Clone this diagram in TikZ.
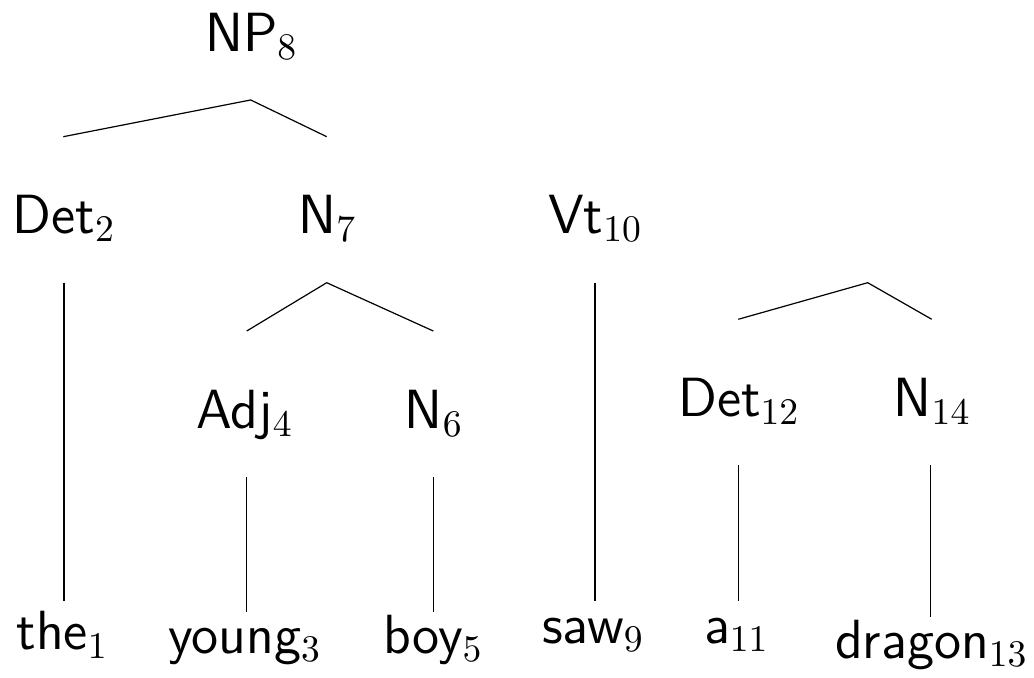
\documentclass[tikz,border=0pt]{standalone}
\tikzset{
  cat/.style={anchor=base,inner sep=0pt,font=\sffamily\fontsize{14.7}{18}\selectfont},
  branch/.style={line width=0.32pt,line join=bevel},
}
\begin{document}
\begin{tikzpicture}[branch]
  \useasboundingbox (0bp,0bp) rectangle (274.27bp,179.84bp);
%%
  % Node: NP 8
  \node[cat] (np8) at (66.76bp,166.13bp) {NP$_8$};
  % Node: Det 2
  \node[cat] (det2) at (17.03bp,117.96bp) {Det$_2$};
  % Node: N 7
  \node[cat] (n7) at (86.92bp,117.96bp) {N$_7$};
  % Node: Vt 10
  \node[cat] (vt10) at (157.96bp,117.96bp) {Vt$_{10}$};
  % Node: Adj 4
  \node[cat] (adj4) at (64.99bp,66.23bp) {Adj$_4$};
  % Node: N 6
  \node[cat] (n6) at (115.17bp,66.23bp) {N$_6$};
  % Node: Det 12
  \node[cat] (det12) at (196.07bp,69.31bp) {Det$_{12}$};
  % Node: N 14
  \node[cat] (n14) at (247.35bp,69.31bp) {N$_{14}$};
  % Node: words
  \node[cat] (the1) at (16.58bp,7.43bp) {the$_1$};
  \node[cat] (young3) at (64.99bp,6.63bp) {young$_3$};
  \node[cat] (boy5) at (114.93bp,6.63bp) {boy$_5$};
  \node[cat] (saw9) at (157.37bp,9.20bp) {saw$_9$};
  \node[cat] (a11) at (195.41bp,9.20bp) {a$_{11}$};
  \node[cat] (dragon13) at (247.14bp,5.23bp) {dragon$_{13}$};
%%
  % forks and line ends
  \coordinate (np8-fork) at (66.50bp,153.32bp);
  \coordinate (np8-l) at (16.79bp,143.58bp);
  \coordinate (np8-r) at (86.66bp,143.58bp);
  \coordinate (n7-fork) at (86.66bp,104.85bp);
  \coordinate (n7-l) at (65.44bp,92.04bp);
  \coordinate (n7-r) at (114.93bp,92.04bp);
  \coordinate (np-fork) at (230.16bp,104.85bp);
  \coordinate (np-l) at (195.84bp,95.15bp);
  \coordinate (np-r) at (247.14bp,95.15bp);
  \coordinate (det2-down) at (16.98bp,104.85bp);
  \coordinate (the1-up) at (16.98bp,20.42bp);
  \coordinate (adj4-down) at (65.44bp,53.32bp);
  \coordinate (young3-up) at (65.44bp,17.43bp);
  \coordinate (n6-down) at (114.96bp,53.32bp);
  \coordinate (boy5-up) at (114.96bp,17.43bp);
  \coordinate (vt10-down) at (157.82bp,104.85bp);
  \coordinate (saw9-up) at (157.82bp,20.42bp);
  \coordinate (det12-down) at (195.97bp,56.50bp);
  \coordinate (a11-up) at (195.97bp,20.42bp);
  \coordinate (n14-down) at (246.87bp,56.50bp);
  \coordinate (dragon13-up) at (246.87bp,16.26bp);
%%
  % Edge: NP 8 -> Det 2, N 7
  \draw (np8-l) -- (np8-fork) -- (np8-r);
  % Edge: N 7 -> Adj 4, N 6
  \draw (n7-l) -- (n7-fork) -- (n7-r);
  % Edge: (NP) -> Det 12, N 14
  \draw (np-l) -- (np-fork) -- (np-r);
  % Edge: categories -> words
  \draw (det2-down) -- (the1-up);
  \draw (adj4-down) -- (young3-up);
  \draw (n6-down) -- (boy5-up);
  \draw (vt10-down) -- (saw9-up);
  \draw (det12-down) -- (a11-up);
  \draw (n14-down) -- (dragon13-up);
%
\end{tikzpicture}
\end{document}
